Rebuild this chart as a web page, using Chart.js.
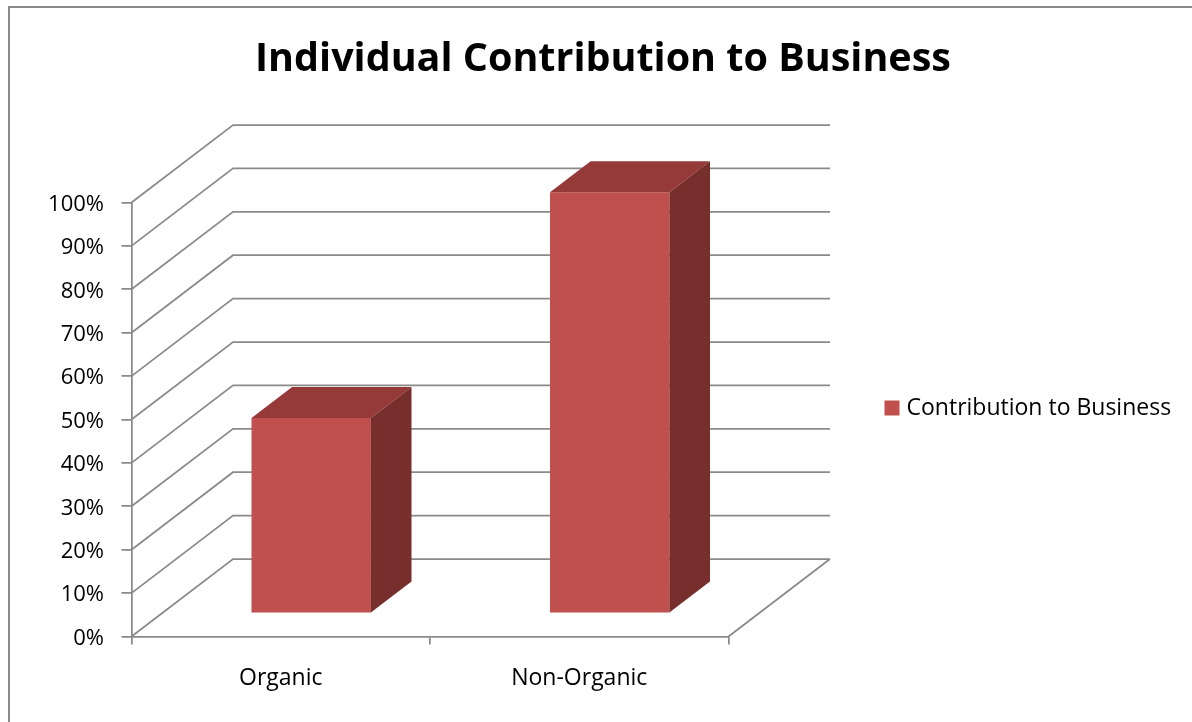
<!DOCTYPE html>
<html>
<head>
<meta charset="utf-8">
<title>Individual Contribution to Business</title>
<script src="https://cdn.jsdelivr.net/npm/chart.js@4.4.1/dist/chart.umd.min.js"></script>
<style>
  html, body { margin: 0; padding: 0; background: #fff; }
  #wrap { width: 1192px; height: 722px; position: relative; }
</style>
</head>
<body>
<div id="wrap"><canvas id="chart"></canvas></div>
<script>
// data
const categories = ["Organic", "Non-Organic"];
const seriesName = "Contribution to Business";
const contribution = [45, 97];
const percentTicks = [0, 10, 20, 30, 40, 50, 60, 70, 80, 90, 100];

// look
const gridColor = "#8a8a8a";
const frontColor = "#c0504d";
const topColor = "#953a38";
const sideColor = "#772f2d";
const depth = { dx: 101.5, dy: -77.5 };   // floor/wall depth in px
const barSlot = { front: 0.3, back: 0.7 }; // where bars sit inside the depth

const box3d = {
  id: "box3d",
  beforeDraw(chart) {
    const ctx = chart.ctx;
    ctx.save();
    ctx.fillStyle = "#fff";
    ctx.fillRect(0, 0, chart.width, chart.height);
    ctx.strokeStyle = gridColor;
    ctx.lineWidth = 2;
    ctx.strokeRect(9, 7, chart.width + 50, chart.height + 50);
    ctx.restore();
  },
  beforeDatasetsDraw(chart) {
    const { ctx, chartArea: a, scales: { y } } = chart;
    ctx.save();
    ctx.strokeStyle = gridColor;
    ctx.lineWidth = 1.75;
    y.ticks.forEach(t => {
      const py = y.getPixelForValue(t.value);
      ctx.beginPath();
      ctx.moveTo(a.left, py);
      ctx.lineTo(a.left + depth.dx, py + depth.dy);
      ctx.lineTo(a.right + depth.dx, py + depth.dy);
      ctx.stroke();
    });
    ctx.beginPath();
    ctx.moveTo(a.right, a.bottom);
    ctx.lineTo(a.right + depth.dx, a.bottom + depth.dy);
    ctx.stroke();
    ctx.restore();
    // push the bar fronts back into the box
    ctx.save();
    ctx.translate(depth.dx * barSlot.front, depth.dy * barSlot.front);
  },
  afterDatasetsDraw(chart) {
    const ctx = chart.ctx;
    ctx.restore();
    const ox = depth.dx * barSlot.front, oy = depth.dy * barSlot.front;
    const bx = depth.dx * (barSlot.back - barSlot.front);
    const by = depth.dy * (barSlot.back - barSlot.front);
    chart.getDatasetMeta(0).data.forEach(bar => {
      const { x, y, base, width } = bar.getProps(["x", "y", "base", "width"], true);
      const l = x - width / 2 + ox, r = x + width / 2 + ox, t = y + oy, b = base + oy;
      ctx.save();
      ctx.fillStyle = topColor;
      ctx.beginPath();
      ctx.moveTo(l, t);
      ctx.lineTo(l + bx, t + by);
      ctx.lineTo(r + bx, t + by);
      ctx.lineTo(r, t);
      ctx.closePath();
      ctx.fill();
      ctx.fillStyle = sideColor;
      ctx.beginPath();
      ctx.moveTo(r, t);
      ctx.lineTo(r + bx, t + by);
      ctx.lineTo(r + bx, b + by);
      ctx.lineTo(r, b);
      ctx.closePath();
      ctx.fill();
      ctx.restore();
    });
  },
  // legend sits far to the right of the plot, wider than chart.js allows a side box
  afterDraw(chart) {
    const ctx = chart.ctx;
    const a = chart.chartArea;
    const ds = chart.data.datasets[0];
    const bx = a.right + 156, by = (a.top + a.bottom) / 2 - 19;
    ctx.save();
    ctx.fillStyle = ds.backgroundColor;
    ctx.fillRect(bx, by, 15, 15);
    ctx.fillStyle = "#000";
    ctx.font = "23px 'Open Sans'";
    ctx.textBaseline = "middle";
    ctx.fillText(ds.label, bx + 22, by + 8);
    ctx.restore();
  }
};

const ctx = document.getElementById("chart").getContext("2d");
new Chart(ctx, {
  type: "bar",
  data: {
    labels: categories,
    datasets: [{
      label: seriesName,
      data: contribution,
      backgroundColor: frontColor,
      borderWidth: 0,
      categoryPercentage: 1,
      barPercentage: 0.4,
      clip: false
    }]
  },
  options: {
    responsive: true,
    maintainAspectRatio: false,
    animation: false,
    layout: { padding: { left: 14, right: 0, top: 0, bottom: 0 } },
    plugins: {
      tooltip: { enabled: false },
      legend: { display: false },
      title: {
        display: true,
        text: "Individual Contribution to Business",
        color: "#000",
        font: { family: "Open Sans", size: 39.5, weight: "bold" },
        padding: { top: 36, bottom: 119.1 }
      }
    },
    scales: {
      x: {
        afterFit: s => { s.height = 85.5; },
        grid: { drawOnChartArea: false, tickLength: 8, color: gridColor, lineWidth: 1.75 },
        border: { color: gridColor, width: 1.75 },
        ticks: { color: "#000", padding: 20, font: { family: "Open Sans", size: 23 } }
      },
      y: {
        min: 0,
        max: 100,
        afterFit: s => { s.width = 131.5 - 14; },
        afterBuildTicks: s => { s.ticks = percentTicks.map(v => ({ value: v })); },
        grid: { drawOnChartArea: false, tickLength: 10, color: gridColor, lineWidth: 1.75 },
        border: { color: gridColor, width: 1.75 },
        ticks: {
          color: "#000",
          padding: 17.5,
          labelOffset: 2,
          font: { family: "Open Sans", size: 22 },
          callback: v => v + "%"
        }
      },
      // empty right-hand axis that only reserves room for the walls and legend
      side: {
        type: "linear",
        position: "right",
        afterFit: s => { s.width = 1192 - 728.5; },
        grid: { display: false },
        border: { display: false },
        ticks: { display: false }
      }
    }
  },
  plugins: [box3d]
});
</script>
</body>
</html>
